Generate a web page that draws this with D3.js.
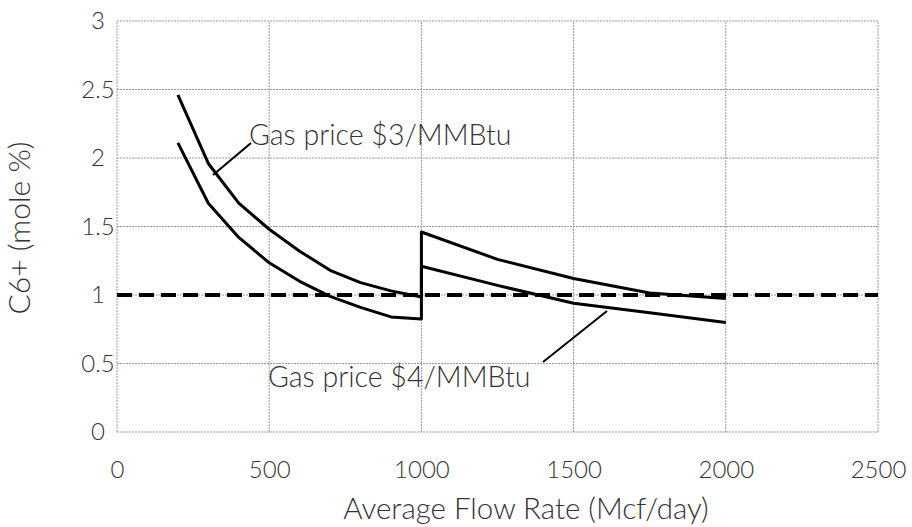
<!DOCTYPE html>
<html><head><meta charset="utf-8">
<script src="https://cdn.jsdelivr.net/npm/d3@7"></script>
<style>
html,body{margin:0;padding:0;background:#fff;}
svg{display:block;}
text{font-family:Lato, "Open Sans", sans-serif;font-weight:300;fill:#333;}
</style></head>
<body>
<script>
// Data
const flowRates = [200,300,400,500,600,700,800,900,1000,1000,1250,1500,1750,2000];
const price3 = [2.46,1.96,1.67,1.48,1.32,1.18,1.09,1.03,0.985,1.46,1.26,1.12,1.015,0.975];
const price4 = [2.11,1.67,1.42,1.235,1.10,0.99,0.91,0.84,0.825,1.21,1.07,0.94,0.87,0.80];
const thresholdValue = 1;
const xTicks = [0,500,1000,1500,2000,2500];
const yTicks = [0,0.5,1,1.5,2,2.5,3];
const xTitle = "Average Flow Rate (Mcf/day)";
const yTitle = "C6+ (mole %)";
const label3 = "Gas price $3/MMBtu";
const label4 = "Gas price $4/MMBtu";

const W = 912, H = 527;
const m = {left:117, right:34, top:21, bottom:95};
const svg = d3.select("body").append("svg").attr("width",W).attr("height",H);
const x = d3.scaleLinear().domain([0,2500]).range([m.left, W-m.right]);
const y = d3.scaleLinear().domain([0,3]).range([H-m.bottom, m.top]);

// gridlines
const grid = svg.append("g");
grid.selectAll("line.v").data(xTicks).join("line")
  .attr("x1",d=>x(d)).attr("x2",d=>x(d)).attr("y1",y(0)).attr("y2",y(3))
  .attr("stroke","#9a9a9a").attr("stroke-width",1).attr("stroke-dasharray","2,1");
grid.selectAll("line.h").data(yTicks).join("line")
  .attr("x1",x(0)).attr("x2",x(2500)).attr("y1",d=>y(d)).attr("y2",d=>y(d))
  .attr("stroke","#9a9a9a").attr("stroke-width",1).attr("stroke-dasharray","2,1");

// axes (labels only)
const xAxis = d3.axisBottom(x).tickValues(xTicks).tickSize(0).tickPadding(29).tickFormat(d3.format("d"));
const gx = svg.append("g").attr("transform",`translate(0,${y(0)})`).call(xAxis);
gx.select(".domain").remove();
gx.selectAll("text").attr("font-size",24).style("font-family","Lato, sans-serif").style("font-weight",300).attr("fill","#333");
const yAxis = d3.axisLeft(y).tickValues(yTicks).tickSize(0).tickPadding(19).tickFormat(d=>String(d));
const gy = svg.append("g").attr("transform",`translate(${x(0)},0)`).call(yAxis);
gy.select(".domain").remove();
gy.selectAll("text").attr("font-size",24).style("font-family","Lato, sans-serif").style("font-weight",300)
  .attr("fill","#333").attr("text-anchor","middle").attr("x",-19);

// threshold dashed line
svg.append("line")
  .attr("x1",x(0)).attr("x2",x(2500)).attr("y1",y(thresholdValue)).attr("y2",y(thresholdValue))
  .attr("stroke","#000").attr("stroke-width",4).attr("stroke-dasharray","15,7");

// curves
const line = d3.line().x((d,i)=>x(flowRates[i])).y(d=>y(d));
[price3, price4].forEach(s=>{
  svg.append("path").datum(s).attr("d",line)
    .attr("fill","none").attr("stroke","#000").attr("stroke-width",3).attr("stroke-linejoin","round");
});

// annotations
svg.append("line").attr("x1",251).attr("y1",143).attr("x2",213).attr("y2",175)
  .attr("stroke","#000").attr("stroke-width",2);
svg.append("text").attr("x",249).attr("y",145).attr("font-size",28.5).text(label3);
svg.append("line").attr("x1",543).attr("y1",362).attr("x2",607).attr("y2",311)
  .attr("stroke","#000").attr("stroke-width",2);
svg.append("text").attr("x",268).attr("y",387).attr("font-size",28.5).text(label4);

// axis titles
svg.append("text").attr("x",526).attr("y",519).attr("text-anchor","middle").attr("font-size",29.5).text(xTitle);
svg.append("text").attr("transform",`translate(30,228) rotate(-90)`)
  .attr("text-anchor","middle").attr("font-size",30).text(yTitle);
</script>
</body></html>
